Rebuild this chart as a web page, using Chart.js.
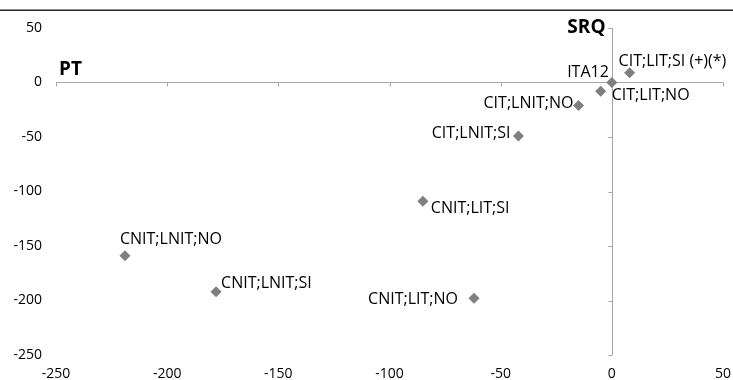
<!DOCTYPE html>
<html>
<head>
<meta charset="utf-8">
<script src="https://cdn.jsdelivr.net/npm/chart.js@4"></script>
<style>
  html, body { margin: 0; padding: 0; background: #fff; }
  #wrap { width: 733px; height: 380px; overflow: hidden; position: relative; }
</style>
</head>
<body>
<div id="wrap"><canvas id="scatterChart" width="733" height="384"></canvas></div>
<script>
// Dữ liệu
const pointNames = ['ITA12', 'CIT;LIT;SI (+)(*)', 'CIT;LIT;NO', 'CIT;LNIT;NO', 'CIT;LNIT;SI',
                    'CNIT;LIT;SI', 'CNIT;LIT;NO', 'CNIT;LNIT;NO', 'CNIT;LNIT;SI'];
const ptValues  = [0, 8, -5, -15, -42, -85, -62, -219, -178];
const srqValues = [0, 9, -8, -21, -49, -109, -198, -159, -192];
const xTicks = [-250, -200, -150, -100, -50, 0, 50];
const yTicks = [-250, -200, -150, -100, -50, 0, 50];

// vị trí nhãn so với điểm (dx, dy, căn lề)
const labelPlacement = [
    [-3, -10, 'right'], [-11, -11, 'left'], [11, 4, 'left'], [-5, -2, 'right'], [-8, -2, 'right'],
    [8, 7, 'left'], [-16, 1, 'right'], [-5, -16, 'left'], [5, -8, 'left']
];

const FONT = '"Open Sans", "Liberation Sans", sans-serif';
const AXIS_COLOR = '#a6a6a6';

// Vẽ trục cắt nhau tại 0, nhãn điểm, tiêu đề trục
const crossAxes = {
    id: 'crossAxes',
    beforeDatasetsDraw(chart) {
        const ctx = chart.ctx;
        const xs = chart.scales.x, ys = chart.scales.y;
        const area = chart.chartArea;
        const x0 = Math.round(xs.getPixelForValue(0)) + 0.5;
        const y0 = Math.round(ys.getPixelForValue(0)) + 0.5;
        ctx.save();
        // đường viền trên cùng
        ctx.strokeStyle = '#262626';
        ctx.lineWidth = 1.5;
        ctx.beginPath();
        ctx.moveTo(0, 10.25);
        ctx.lineTo(chart.width, 10.25);
        ctx.stroke();

        ctx.strokeStyle = AXIS_COLOR;
        ctx.lineWidth = 1;
        ctx.beginPath();
        ctx.moveTo(area.left, y0);
        ctx.lineTo(area.right, y0);
        xTicks.forEach(v => {
            const px = Math.round(xs.getPixelForValue(v)) + 0.5;
            ctx.moveTo(px, y0);
            ctx.lineTo(px, y0 + 4);
        });
        ctx.moveTo(x0, area.top);
        ctx.lineTo(x0, area.bottom);
        yTicks.forEach(v => {
            const py = Math.round(ys.getPixelForValue(v)) + 0.5;
            ctx.moveTo(x0, py);
            ctx.lineTo(x0 - 4, py);
        });
        ctx.stroke();

        // tiêu đề trục
        ctx.fillStyle = '#000';
        ctx.font = 'bold 19px ' + FONT;
        ctx.textBaseline = 'middle';
        ctx.textAlign = 'left';
        ctx.fillText('PT', area.left + 3, y0 - 13);
        ctx.textAlign = 'right';
        ctx.fillText('SRQ', x0 - 7, area.top);
        ctx.restore();
    },
    afterDatasetsDraw(chart) {
        const ctx = chart.ctx;
        const meta = chart.getDatasetMeta(0);
        ctx.save();
        ctx.fillStyle = '#000';
        ctx.font = '16px ' + FONT;
        ctx.textBaseline = 'middle';
        meta.data.forEach((pt, i) => {
            const [dx, dy, align] = labelPlacement[i];
            ctx.textAlign = align;
            ctx.fillText(pointNames[i], pt.x + dx, pt.y + dy);
        });
        ctx.restore();
    }
};

document.addEventListener('DOMContentLoaded', function() {
    const ctx = document.getElementById('scatterChart').getContext('2d');
    new Chart(ctx, {
        type: 'scatter',
        data: {
            datasets: [{
                label: 'SRQ',
                data: ptValues.map((v, i) => ({ x: v, y: srqValues[i] })),
                pointStyle: 'rectRot',
                pointRadius: 5.5,
                pointHoverRadius: 5.5,
                backgroundColor: '#7f7f7f',
                borderColor: '#7f7f7f',
                borderWidth: 0
            }]
        },
        options: {
            responsive: false,
            animation: false,
            layout: { padding: { top: 28, right: 10, left: 0, bottom: 0 } },
            plugins: {
                legend: { display: false },
                tooltip: { enabled: false }
            },
            scales: {
                x: {
                    type: 'linear',
                    min: -250, max: 50,
                    afterBuildTicks: s => { s.ticks = xTicks.map(v => ({ value: v })); },
                    afterFit: s => { s.height = 29; },
                    grid: { display: false, drawTicks: true, tickLength: 11 },
                    border: { display: false },
                    ticks: { color: '#000', padding: 0, maxRotation: 0, font: { family: FONT, size: 14 } }
                },
                y: {
                    type: 'linear',
                    min: -250, max: 50,
                    afterBuildTicks: s => { s.ticks = yTicks.map(v => ({ value: v })); },
                    afterFit: s => { s.width = 56; },
                    grid: { display: false, drawTicks: true, tickLength: 14 },
                    border: { display: false },
                    ticks: { color: '#000', padding: 0, font: { family: FONT, size: 14 } }
                }
            }
        },
        plugins: [crossAxes]
    });
});
</script>
</body>
</html>
